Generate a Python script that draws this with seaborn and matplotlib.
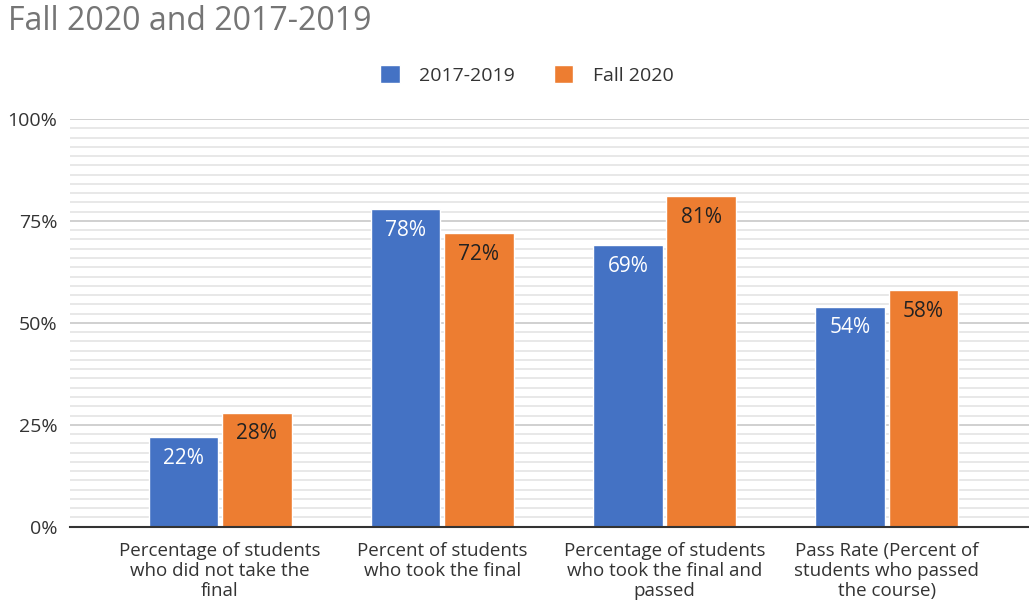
import numpy as np
import pandas as pd
import seaborn as sns
import matplotlib.pyplot as plt
from matplotlib.ticker import MultipleLocator, AutoMinorLocator, FuncFormatter

# data
categories = [
    'Percentage of students\nwho did not take the\nfinal',
    'Percent of students\nwho took the final',
    'Percentage of students\nwho took the final and\npassed',
    'Pass Rate (Percent of\nstudents who passed\nthe course)',
]
series_names = ['2017-2019', 'Fall 2020']
values_2017_2019 = [22, 78, 69, 54]
values_fall_2020 = [28, 72, 81, 58]

colors = ['#4472C4', '#ED7D31']
label_colors = ['white', '#222222']

df = pd.DataFrame({
    'category': categories * 2,
    'series': [series_names[0]] * 4 + [series_names[1]] * 4,
    'value': values_2017_2019 + values_fall_2020,
})

sns.set_style('white')
plt.rcParams['font.family'] = ['Open Sans', 'DejaVu Sans']

fig = plt.figure(figsize=(10.29, 6.01), dpi=100)
ax = fig.add_axes([70 / 1029, 1 - 526.7 / 601, 1 - 70 / 1029, (526.7 - 119) / 601])

sns.barplot(data=df, x='category', y='value', hue='series', hue_order=series_names,
            palette=colors, width=0.66, gap=0.05, saturation=1, ax=ax)

# value labels inside the top of each bar
for cont, tc in zip(ax.containers, label_colors):
    ax.bar_label(cont, labels=[f'{int(round(b.get_height()))}%' for b in cont],
                 padding=-23, color=tc, fontsize=15)

ax.set_ylim(0, 100)
ax.set_xlim(-0.675, 3.64)
ax.yaxis.set_major_locator(MultipleLocator(25))
ax.yaxis.set_minor_locator(AutoMinorLocator(11))
ax.yaxis.set_major_formatter(FuncFormatter(lambda v, p: f'{int(v)}%'))
ax.grid(which='major', axis='y', color='#c8c8c8', linewidth=1.2)
ax.grid(which='minor', axis='y', color='#e4e4e4', linewidth=1.2)
ax.set_axisbelow(True)

for s in ['top', 'right', 'left']:
    ax.spines[s].set_visible(False)
ax.spines['bottom'].set_color('#333333')
ax.spines['bottom'].set_linewidth(1.5)

ax.tick_params(axis='both', which='both', length=0, colors='#333333')
ax.tick_params(axis='y', pad=9, labelsize=14)
ax.tick_params(axis='x', pad=11, labelsize=13.5)
for t in ax.get_xticklabels():
    t.set_linespacing(1.13)
ax.set_xlabel('')
ax.set_ylabel('')

handles, labels = ax.get_legend_handles_labels()
ax.get_legend().remove()
fig.legend(handles, labels, loc='center', bbox_to_anchor=(527 / 1029, 1 - 75 / 601),
           ncol=2, frameon=False, fontsize=14, handlelength=1.0, handleheight=1.0,
           columnspacing=2.0, handletextpad=1.0, labelcolor='#333333')

fig.text(8 / 1029, 1 - 22 / 601, 'Fall 2020 and 2017-2019', fontsize=23,
         color='#757575', va='center', ha='left')

fig.savefig('out.png', dpi=100)
